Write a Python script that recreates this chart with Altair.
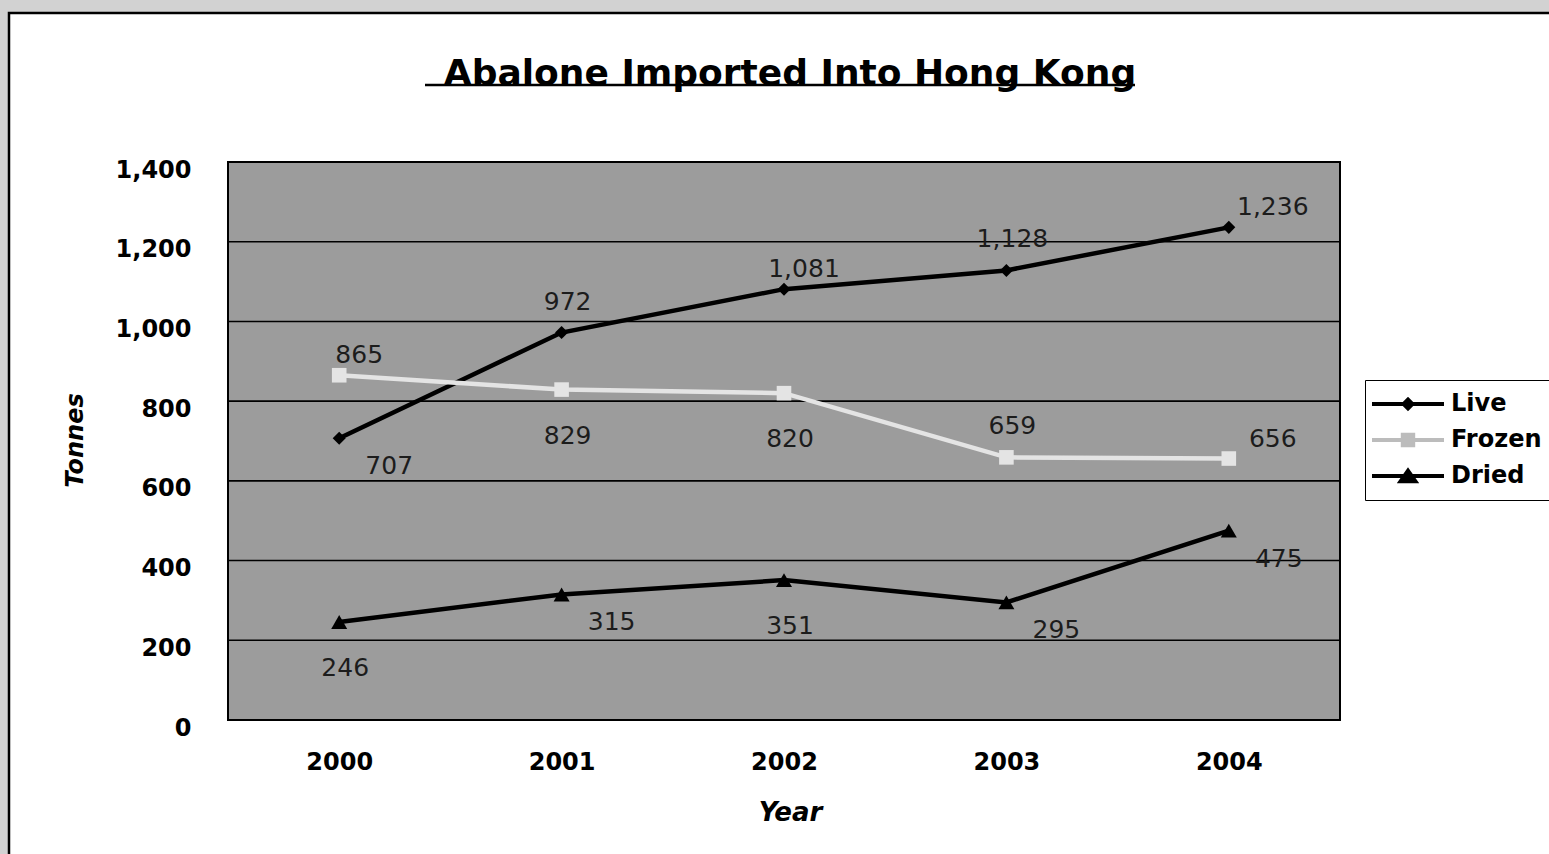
import altair as alt
import pandas as pd

# ---- data ---------------------------------------------------------------
years = ["2000", "2001", "2002", "2003", "2004"]
series_names = ["Live", "Frozen", "Dried"]
live = [707, 972, 1081, 1128, 1236]
frozen = [865, 829, 820, 659, 656]
dried = [246, 315, 351, 295, 475]
y_ticks = [0, 200, 400, 600, 800, 1000, 1200, 1400]

# where each value label sits relative to its marker
live_pos = ["below-right", "above", "above-right", "above", "right"]
frozen_pos = ["above-right", "below", "below", "above", "right"]
dried_pos = ["below", "below-right", "below", "below-right", "below-right"]

LABEL_OFFSETS = {
    "above": (6, -31),
    "above-right": (20, -20),
    "below": (6, 46),
    "below-right": (50, 28),
    "right": (44, -20),
}

# ---- layout -------------------------------------------------------------
CANVAS_W, CANVAS_H = 1549, 854
LEFT, TOP = 228, 162
W, H = 1112, 558
FRAME_X, FRAME_Y = 9, 13

FONT = "DejaVu Sans"
PLOT_BG = "#9c9c9c"
line_colors = ["#000000", "#e4e4e4", "#000000"]
legend_colors = ["#000000", "#bcbcbc", "#000000"]
marker_shapes = ["diamond", "square", "triangle-up"]
marker_sizes = [170, 256, 484]

# legend glyphs: a short line with the series marker in the middle
SEG = "M-4.5,-0.25H4.5V0.25H-4.5Z"
legend_glyphs = [
    SEG + "M0,-0.9L0.9,0L0,0.9L-0.9,0Z",
    SEG + "M-0.9,-0.9H0.9V0.9H-0.9Z",
    SEG + "M0,-1.1L1.4,0.9L-1.4,0.9Z",
]

rows = []
for name, vals, pos in [("Live", live, live_pos),
                        ("Frozen", frozen, frozen_pos),
                        ("Dried", dried, dried_pos)]:
    for yr, v, p in zip(years, vals, pos):
        rows.append({"year": yr, "series": name, "value": v, "pos": p})
df = pd.DataFrame(rows)
grid_df = pd.DataFrame({"value": y_ticks})
one = pd.DataFrame({"k": [0]})

x_enc = alt.X(
    "year:O",
    title="Year",
    scale=alt.Scale(type="point", padding=0.5),
    axis=alt.Axis(
        labelAngle=0, ticks=False, domain=False, grid=False, labelPadding=30, zindex=1,
        labelFont=FONT, labelFontWeight="bold", labelFontSize=24, labelColor="black",
        titleFont=FONT, titleFontWeight="bold", titleFontStyle="italic",
        titleFontSize=26, titleColor="black",
        titleX=562, titleY=92, titleAlign="center", titleBaseline="middle",
    ),
)
y_enc = alt.Y(
    "value:Q",
    title="Tonnes",
    scale=alt.Scale(domain=[0, 1400], nice=False, zero=True),
    axis=alt.Axis(
        values=y_ticks, labelExpr="format(datum.value, ',')",
        ticks=False, domain=False, grid=False, zindex=1,
        labelPadding=37, labelOffset=8,
        labelFont=FONT, labelFontWeight="bold", labelFontSize=24, labelColor="black",
        titleFont=FONT, titleFontWeight="bold", titleFontStyle="italic",
        titleFontSize=24, titleColor="black", titleAngle=270,
        titleX=-153, titleY=278, titleAlign="center", titleBaseline="middle",
    ),
)

# white framed page with a grey margin
frame = alt.Chart(one).mark_rect(fill="white", stroke="black", strokeWidth=2.5).encode(
    x=alt.value(FRAME_X - LEFT), x2=alt.value(CANVAS_W - LEFT + 30),
    y=alt.value(FRAME_Y - TOP), y2=alt.value(CANVAS_H - TOP + 30),
)

# plot area background with its border
plot_bg = alt.Chart(one).mark_rect(fill=PLOT_BG, stroke="black", strokeWidth=2).encode(
    x=alt.value(0), x2=alt.value(W), y=alt.value(0), y2=alt.value(H),
)

grid = alt.Chart(grid_df).mark_rule(color="black", strokeWidth=1.6).encode(
    y=y_enc, x=alt.value(0), x2=alt.value(W),
)

color_enc = alt.Color("series:N", scale=alt.Scale(domain=series_names, range=line_colors), legend=None)

lines = alt.Chart(df).mark_line(strokeWidth=4.5).encode(
    x=x_enc, y=y_enc, color=color_enc, detail="series:N",
)

points = alt.Chart(df).mark_point(filled=True, opacity=1).encode(
    x=x_enc, y=y_enc, color=color_enc,
    shape=alt.Shape("series:N", scale=alt.Scale(domain=series_names, range=marker_shapes), legend=None),
    size=alt.Size("series:N", scale=alt.Scale(domain=series_names, range=marker_sizes), legend=None),
)

leg = alt.Legend(
    title=None, orient="none", legendX=1365 - LEFT, legendY=380 - TOP,
    symbolSize=256, symbolStrokeWidth=0, symbolOpacity=1,
    symbolOffset=19, labelOffset=31, rowPadding=12, padding=12,
    labelFont=FONT, labelFontWeight="bold", labelFontSize=24, labelColor="black",
    strokeColor="black", fillColor="white",
)
legend_layer = alt.Chart(df).mark_point(filled=True, opacity=0).encode(
    x=x_enc, y=y_enc,
    shape=alt.Shape("series:N", scale=alt.Scale(domain=series_names, range=legend_glyphs), legend=leg),
    fill=alt.Fill("series:N", scale=alt.Scale(domain=series_names, range=legend_colors), legend=leg),
)

label_layers = []
for pos, (dx, dy) in LABEL_OFFSETS.items():
    label_layers.append(
        alt.Chart(df).transform_filter(alt.datum.pos == pos).mark_text(
            dx=dx, dy=dy, align="center", baseline="middle",
            font=FONT, fontSize=25, color="#1c1c1c",
        ).encode(x=x_enc, y=y_enc, text=alt.Text("value:Q", format=","))
    )

title_rule = alt.Chart(one).mark_rule(color="black", strokeWidth=2.5).encode(
    x=alt.value(425 - LEFT), x2=alt.value(1135 - LEFT), y=alt.value(85 - TOP),
)

# the title is placed above the framed page's top edge, so pull it down into it
TITLE_DY = 109

chart = alt.layer(
    frame, plot_bg, grid, lines, points, legend_layer, *label_layers, title_rule
).resolve_scale(
    shape="independent", fill="independent", size="independent"
).properties(
    width=W, height=H,
    title=alt.Title(
        "Abalone Imported Into Hong Kong",
        font=FONT, fontSize=36, fontWeight="bold", color="black",
        anchor="middle", baseline="alphabetic", offset=0, dx=6, dy=TITLE_DY,
    ),
    autosize=alt.AutoSizeParams(type="none"),
    padding={"left": LEFT, "top": TOP, "right": CANVAS_W - LEFT - W, "bottom": CANVAS_H - TOP - H},
).configure(
    background="#d2d2d2",
).configure_view(stroke=None)

chart.save("out.html", embed_options={"renderer": "svg", "actions": False})
